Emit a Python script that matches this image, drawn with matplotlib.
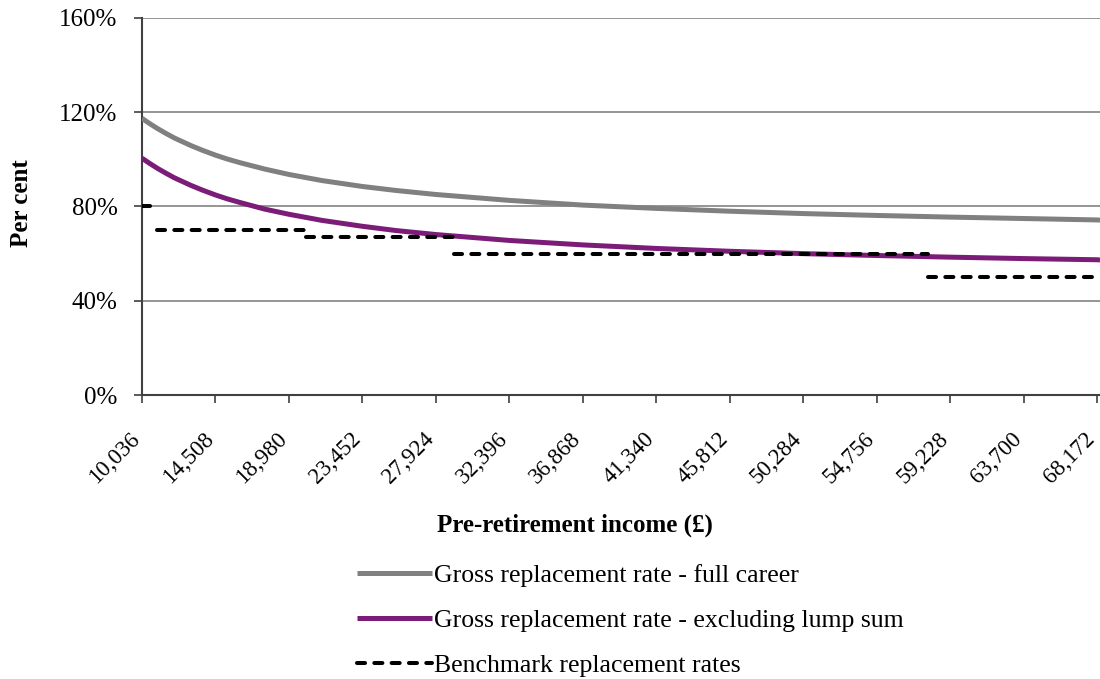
import matplotlib
matplotlib.use("Agg")
import numpy as np
import matplotlib.pyplot as plt
import matplotlib.transforms as mtransforms

plt.rcParams['font.family'] = ['Liberation Serif', 'DejaVu Serif']

# Pre-retirement income (GBP) at which the curves were read
income = [10036, 10500, 11000, 11500, 12000, 12500, 13000, 13700, 14508, 15200,
          16000, 17500, 18980, 21000, 23452, 25500, 27924, 32396, 36868, 41340,
          45812, 50284, 54756, 59228, 63700, 68172, 68356]

# Gross replacement rate - full career (%)
full_career = [117.4, 115.2, 113.0, 111.0, 109.1, 107.5, 105.9, 103.9, 101.8, 100.2,
               98.6, 95.9, 93.6, 91.0, 88.5, 86.8, 85.1, 82.6, 80.6, 79.2,
               78.0, 77.0, 76.2, 75.5, 74.9, 74.3, 74.2]

# Gross replacement rate - excluding lump sum (%)
excl_lump = [100.5, 98.3, 96.1, 94.1, 92.2, 90.6, 89.0, 87.0, 84.9, 83.3,
             81.7, 78.9, 76.7, 74.1, 71.6, 69.8, 68.1, 65.6, 63.7, 62.2,
             61.0, 60.0, 59.2, 58.5, 57.9, 57.4, 57.3]

# Benchmark replacement rates: income bands and rate (%)
bench_start = [10036, 10950, 20000, 29000, 57900]
bench_end = [10700, 20000, 29000, 57900, 68356]
bench_rate = [80, 70, 67, 60, 50]

xtick_values = [10036, 14508, 18980, 23452, 27924, 32396, 36868, 41340,
                45812, 50284, 54756, 59228, 63700, 68172]
xtick_labels = ['10,036', '14,508', '18,980', '23,452', '27,924', '32,396',
                '36,868', '41,340', '45,812', '50,284', '54,756', '59,228',
                '63,700', '68,172']
ytick_values = [0, 40, 80, 120, 160]
ytick_labels = ['0%', '40%', '80%', '120%', '160%']

fig = plt.figure(figsize=(11, 6.79), dpi=100)
ax = fig.add_axes([142 / 1100, 284 / 679, 958 / 1100, 377 / 679])

ax.plot(income, full_career, color='#808080', lw=3.6, solid_capstyle='butt',
        label='Gross replacement rate - full career', zorder=3)
ax.plot(income, excl_lump, color='#7B1C78', lw=3.6, solid_capstyle='butt',
        label='Gross replacement rate - excluding lump sum', zorder=3)
for i in range(len(bench_rate)):
    ax.plot([bench_start[i], bench_end[i]], [bench_rate[i], bench_rate[i]],
            color='black', lw=2.9, dashes=(2.0, 2.3), dash_capstyle='round',
            label='Benchmark replacement rates' if i == 0 else None, zorder=4)

ax.set_xlim(10036, 68356)
ax.set_ylim(0, 160)
ax.set_yticks(ytick_values)
ax.set_yticklabels(ytick_labels, fontsize=18)
ax.set_xticks(xtick_values)
ax.set_xticklabels(xtick_labels, fontsize=16.5, rotation=45, ha='right',
                   va='center', rotation_mode='anchor')
ax.tick_params(axis='both', direction='out', length=5.5, width=1.2, color='#404040')
ax.tick_params(axis='y', pad=12)
ax.tick_params(axis='x', pad=24)

# nudge rotated labels left so their ends sit at the ticks
shift = mtransforms.ScaledTranslation(-5 / 100, 0, fig.dpi_scale_trans)
for lbl in ax.get_xticklabels():
    lbl.set_transform(lbl.get_transform() + shift)

ax.grid(axis='y', color='#8c8c8c', lw=1.3, zorder=0)
ax.set_axisbelow(True)
for s in ['top', 'right']:
    ax.spines[s].set_visible(False)
for s in ['left', 'bottom']:
    ax.spines[s].set_color('#404040')
    ax.spines[s].set_linewidth(1.5)

fig.text(22 / 1100, 1 - 203 / 679, 'Per cent', rotation=90, fontsize=18,
         fontweight='bold', ha='center', va='center')
fig.text(575 / 1100, 1 - 525 / 679, 'Pre-retirement income (£)', fontsize=18,
         fontweight='bold', ha='center', va='center')

fig.legend(loc='upper left', bbox_to_anchor=(357 / 1100, 1 - 564 / 679),
           frameon=False, fontsize=18.5, handlelength=2.9, handletextpad=0.1,
           labelspacing=0.86, borderpad=0, borderaxespad=0)

fig.savefig('out.png', dpi=100)
